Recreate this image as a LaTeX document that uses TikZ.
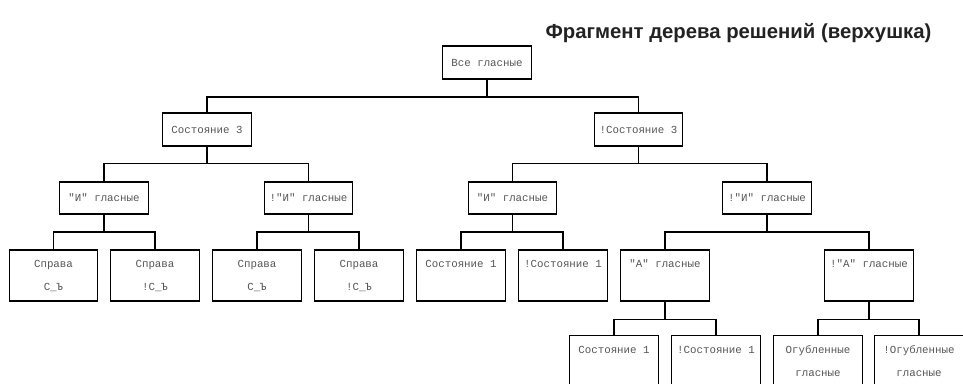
\documentclass[tikz,border=0pt]{standalone}
\usepackage{fontspec}
\setmainfont{Liberation Sans}
\newfontfamily\boxfont{Liberation Mono}
\definecolor{txtgray}{HTML}{555555}
\definecolor{ttl}{HTML}{222222}
\begin{document}
\begin{tikzpicture}[x=1pt,y=-1pt,
  box/.style={draw=black, line width=1.3pt, rectangle, inner sep=0pt,
    minimum width=88.5pt, align=center, text=txtgray,
    font=\boxfont\fontsize{10.8}{23}\selectfont},
  lvlA/.style={box, minimum height=33pt},
  lvlB/.style={box, minimum height=32pt},
  leaf/.style={box, minimum height=51pt},
  conn/.style={draw=black, line width=1.3pt, line cap=rect}]
\useasboundingbox (0,0) rectangle (963,383);
\clip (0,0) rectangle (963,383);

\node[font=\bfseries\fontsize{20.3}{24}\selectfont, text=ttl, anchor=base] (title) at (738.5,38) {Фрагмент дерева решений (верхушка)};

% root
\node[lvlA] (root) at (487,62.5) {Все гласные};
% level 1
\node[lvlA] (s3) at (207,129.5) {Состояние 3};
\node[lvlA] (ns3) at (638.5,129.5) {!Состояние 3};
% level 2
\node[lvlB] (i1) at (104,198) {"И" гласные};
\node[lvlB] (ni1) at (308.5,198) {!"И" гласные};
\node[lvlB] (i2) at (512.5,198) {"И" гласные};
\node[lvlB] (ni2) at (767,198) {!"И" гласные};
% level 3
\node[leaf] (l1) at (53.5,275.5) {Справа\\C\_Ъ};
\node[leaf] (l2) at (155,275.5) {Справа\\!C\_Ъ};
\node[leaf] (l3) at (257,275.5) {Справа\\C\_Ъ};
\node[leaf] (l4) at (359,275.5) {Справа\\!C\_Ъ};
\node[leaf] (l5) at (461,275.5) {Состояние 1\\~};
\node[leaf] (l6) at (563,275.5) {!Состояние 1\\~};
\node[leaf] (a1) at (665,275.5) {"А" гласные\\~};
\node[leaf] (na1) at (869,275.5) {!"А" гласные\\~};
% level 4
\node[leaf] (m1) at (614,361) {Состояние 1\\~};
\node[leaf] (m2) at (716,361) {!Состояние 1\\~};
\node[leaf] (m3) at (818,361) {Огубленные\\гласные};
\node[leaf] (m4) at (919,361) {!Огубленные\\гласные};

% bus coordinates
\coordinate (b0) at (0,97);
\coordinate (b1) at (0,163.5);
\coordinate (b2) at (0,232);
\coordinate (b3) at (0,319.5);

% connectors
\draw[conn] (root.south) -- (root.south |- b0);
\draw[conn] (s3.north) |- (ns3.north |- b0) -- (ns3.north);

\draw[conn] (s3.south) -- (s3.south |- b1);
\draw[conn] (i1.north) |- (ni1.north |- b1) -- (ni1.north);
\draw[conn] (ns3.south) -- (ns3.south |- b1);
\draw[conn] (i2.north) |- (ni2.north |- b1) -- (ni2.north);

\draw[conn] (i1.south) -- (i1.south |- b2);
\draw[conn] (l1.north) |- (l2.north |- b2) -- (l2.north);
\draw[conn] (ni1.south) -- (ni1.south |- b2);
\draw[conn] (l3.north) |- (l4.north |- b2) -- (l4.north);
\draw[conn] (i2.south) -- (i2.south |- b2);
\draw[conn] (l5.north) |- (l6.north |- b2) -- (l6.north);
\draw[conn] (ni2.south) -- (ni2.south |- b2);
\draw[conn] (a1.north) |- (na1.north |- b2) -- (na1.north);

\draw[conn] (a1.south) -- (a1.south |- b3);
\draw[conn] (m1.north) |- (m2.north |- b3) -- (m2.north);
\draw[conn] (na1.south) -- (na1.south |- b3);
\draw[conn] (m3.north) |- (m4.north |- b3) -- (m4.north);
\end{tikzpicture}
\end{document}
